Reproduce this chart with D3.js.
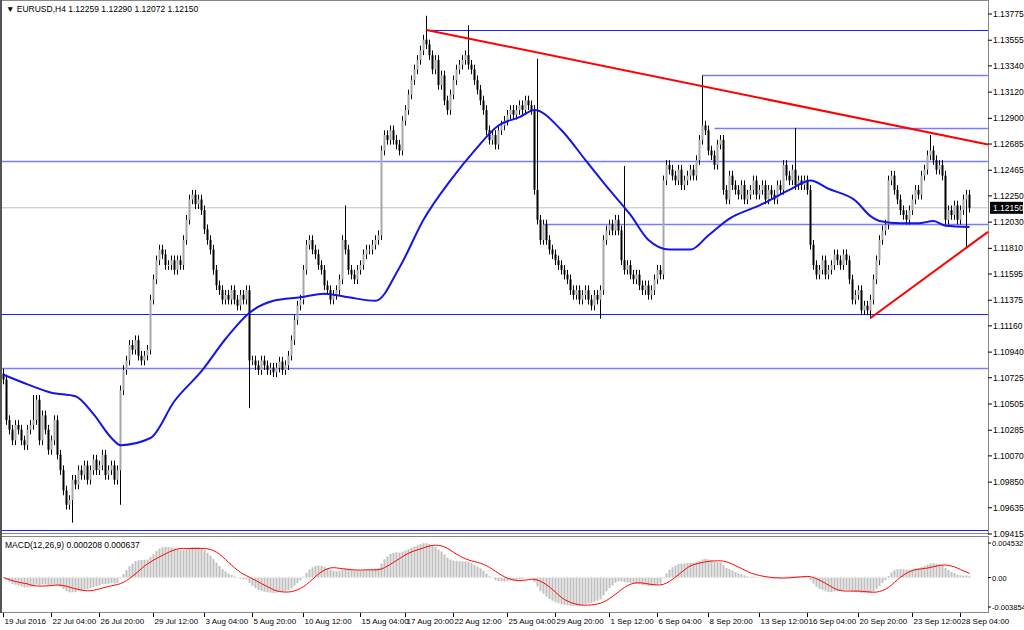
<!DOCTYPE html>
<html>
<head>
<meta charset="utf-8">
<script src="https://cdn.jsdelivr.net/npm/d3@7"></script>
<style>
  body { margin: 0; background: #fff; }
  text { font-family: "Liberation Sans", Arial, sans-serif; font-size: 8.5px; fill: #000; }
</style>
</head>
<body>
<div id="chart"></div>
<script>
// closes in pips above 1.0900 (EURUSD H4)
const closes = [
    171,137,129,120,133,129,120,116,129,133,
    137,154,120,141,129,112,120,137,108,95,
    78,66,70,87,83,95,91,99,87,95,
    104,95,99,108,91,95,99,87,95,162,
    179,187,200,196,204,191,187,191,196,238,
    255,271,280,276,267,267,271,263,271,267,
    288,305,322,326,318,322,313,297,288,280,
    263,250,246,238,242,238,246,238,233,242,
    238,246,187,187,183,179,187,183,179,181,
    177,181,186,179,183,191,204,221,233,238,
    263,284,288,280,276,267,263,250,246,238,
    242,246,255,288,280,263,259,255,263,267,
    276,280,280,284,288,292,363,376,372,380,
    372,368,363,388,397,410,422,431,439,447,
    456,452,443,431,439,418,426,405,397,410,
    422,431,435,439,443,435,431,422,414,405,
    397,380,372,376,368,380,384,388,393,397,
    393,397,401,397,405,401,397,330,305,288,
    301,288,280,276,271,267,263,259,255,246,
    242,246,238,242,246,238,233,242,238,246,
    288,296,301,296,305,296,271,263,267,259,
    255,259,250,246,250,242,246,255,263,259,
    338,351,347,342,338,347,334,338,342,347,
    342,355,372,384,380,363,359,351,368,372,
    330,322,342,334,330,326,334,322,326,330,
    338,326,330,334,322,330,326,322,334,330,
    351,342,338,347,334,338,334,338,330,284,
    267,259,263,271,259,263,267,276,271,267,
    276,271,255,238,242,246,229,233,229,238,
    255,271,288,296,301,338,342,330,322,313,
    309,305,313,322,330,326,342,347,359,363,
    355,347,351,342,305,313,309,317,305,313,
    322,326,315
];
// long wicks: [bar index, extreme in pips]
const spikes = [[10, 158], [23, 51], [39, 66], [82, 147], [114, 317], [141, 476],
    [155, 468], [178, 440], [199, 222], [207, 350], [233, 426], [264, 382],
    [289, 222], [309, 376], [321, 281]];

// 50-bar moving average: [bar index, pips]
const maPoints = [[0,175],[8,167],[16,160],[24,157],[30,142],[36,122],[39,116],[49,122],[57,153],
    [66,178],[74,205],[82,227],[90,237],[99,240],[107,243],[115,240],[124,237],
    [132,265],[140,305],[149,338],[157,363],[165,384],[172,391],[177,397],[186,380],
    [194,355],[202,330],[209,309],[215,288],[222,280],[229,280],[235,292],[242,306],
    [252,317],[262,330],[269,338],[275,331],[284,321],[289,308],[292,304],[299,302],
    [305,302],[310,304],[314,300],[322,299]];

const levels = [1.13641, 1.13264, 1.12819, 1.12543, 1.12014, 1.11260, 1.10807, 1.09449];
const levelStart = [141, 233, 237, 0, 180, 0, 0, 0];
const resistance = [[141, 1.13641], [329, 1.12677]];
const support = [[289, 1.11226], [329, 1.11964]];

const priceTicks = [1.13775,1.13555,1.13340,1.13120,1.12900,1.12685,1.12465,1.12250,
    1.12030,1.11810,1.11595,1.11375,1.11160,1.10940,1.10725,1.10505,1.10285,
    1.10070,1.09850,1.09635,1.09415];
const macdTicks = [0.004532, 0.0, -0.003854];
const timeLabels = ["19 Jul 2016","22 Jul 04:00","26 Jul 20:00","29 Jul 12:00","3 Aug 04:00",
    "5 Aug 20:00","10 Aug 12:00","15 Aug 04:00","17 Aug 20:00","22 Aug 12:00",
    "25 Aug 04:00","29 Aug 20:00","1 Sep 12:00","6 Sep 04:00","8 Sep 20:00",
    "13 Sep 12:00","16 Sep 04:00","20 Sep 20:00","23 Sep 12:00","28 Sep 04:00"];
const timeIdx = [0,16,32,50,67,83,100,119,134,150,168,184,202,218,235,252,268,285,303,319];
const lastPrice = 1.12150;

const width = 1024, height = 630;
const left = 2, right = 988;
const px = (v) => 1.09 + v / 10000;

const x = d3.scaleLinear().domain([0, 329]).range([3.5, 3.5 + 329 * 3]);
const y = d3.scaleLinear().domain([1.09415, 1.13775]).range([534, 14]);
const ym = d3.scaleLinear().domain([-0.003854, 0.004532]).range([607, 543]);

// build candles
const bars = closes.map((c, i) => {
    const o = i === 0 ? closes[0] + 5 : closes[i - 1];
    return { i, o: px(o), c: px(c), h: px(Math.max(o, c) + 4), l: px(Math.min(o, c) - 4) };
});
spikes.forEach(([i, v]) => {
    const p = px(v);
    if (p > bars[i].h) bars[i].h = p;
    if (p < bars[i].l) bars[i].l = p;
});

// MACD 12,26,9 from closes
const ema = (arr, n) => {
    const k = 2 / (n + 1), out = [];
    arr.forEach((v, i) => out.push(i === 0 ? v : v * k + out[i - 1] * (1 - k)));
    return out;
};
const cp = bars.map((b) => b.c);
const e12 = ema(cp, 12), e26 = ema(cp, 26);
const macd = e12.map((v, i) => v - e26[i]);
const signal = macd.map((v, i) => d3.mean(macd.slice(Math.max(0, i - 8), i + 1)));

const svg = d3.select("#chart").append("svg").attr("width", width).attr("height", height);

// frames
svg.append("rect").attr("x", 0.5).attr("y", 0.5).attr("width", right).attr("height", 533)
    .attr("fill", "none").attr("stroke", "#888");
svg.append("rect").attr("x", 0.5).attr("y", 536.5).attr("width", right).attr("height", 76)
    .attr("fill", "none").attr("stroke", "#888");
svg.append("line").attr("x1", 1).attr("x2", 1).attr("y1", 0).attr("y2", 613)
    .attr("stroke", "#555").attr("stroke-width", 2);

const main = svg.append("g");

// current price line
main.append("line").attr("x1", left).attr("x2", right)
    .attr("y1", y(lastPrice)).attr("y2", y(lastPrice)).attr("stroke", "#c0c0c0");

// horizontal levels
const light = [1, 2, 3, 4, 6];
main.selectAll(".lvl").data(levels).enter().append("line")
    .attr("x1", (d, i) => levelStart[i] ? x(levelStart[i]) : left)
    .attr("x2", right)
    .attr("y1", (d) => Math.round(y(d)) + 0.5).attr("y2", (d) => Math.round(y(d)) + 0.5)
    .attr("stroke", (d, i) => light.includes(i) ? "#7b7bff" : "#2020ff")
    .attr("stroke-width", (d, i) => light.includes(i) ? 1.6 : 1);

// candles
const cg = main.append("g");
cg.selectAll(".wick").data(bars).enter().append("line")
    .attr("x1", (d) => x(d.i)).attr("x2", (d) => x(d.i))
    .attr("y1", (d) => y(d.h)).attr("y2", (d) => y(d.l))
    .attr("stroke", "#000").attr("stroke-width", 1);
cg.selectAll(".body").data(bars).enter().append("rect")
    .attr("x", (d) => x(d.i) - 1)
    .attr("width", 2)
    .attr("y", (d) => y(Math.max(d.o, d.c)))
    .attr("height", (d) => Math.max(1, Math.abs(y(d.o) - y(d.c))))
    .attr("fill", (d) => d.c >= d.o ? "#a8a8a8" : "#000");

// moving average
main.append("path").datum(maPoints)
    .attr("d", d3.line().x((d) => x(d[0])).y((d) => y(px(d[1]))).curve(d3.curveMonotoneX))
    .attr("fill", "none").attr("stroke", "#1515e6").attr("stroke-width", 2);

// trend lines
[resistance, support].forEach((seg) => {
    main.append("line")
        .attr("x1", x(seg[0][0])).attr("y1", y(seg[0][1]))
        .attr("x2", right).attr("y2", y(seg[0][1]) + (y(seg[1][1]) - y(seg[0][1])) * (right - x(seg[0][0])) / (x(seg[1][0]) - x(seg[0][0])))
        .attr("stroke", "#ff0000").attr("stroke-width", 2);
});

// price axis
const pa = svg.append("g");
pa.selectAll("line").data(priceTicks).enter().append("line")
    .attr("x1", right).attr("x2", right + 4)
    .attr("y1", (d) => y(d)).attr("y2", (d) => y(d)).attr("stroke", "#000");
pa.selectAll("text").data(priceTicks).enter().append("text")
    .attr("x", right + 5).attr("y", (d) => y(d) + 3).text((d) => d.toFixed(5));
pa.append("rect").attr("x", right + 2).attr("y", y(lastPrice) - 6)
    .attr("width", 33).attr("height", 12).attr("fill", "#000");
pa.append("text").attr("x", right + 5).attr("y", y(lastPrice) + 3)
    .style("fill", "#fff").text(lastPrice.toFixed(5));

svg.append("text").attr("x", 6).attr("y", 12).text("\u25BC EURUSD,H4  1.12259 1.12290 1.12072 1.12150");

// MACD pane
const mg = svg.append("g");
mg.selectAll("rect").data(macd).enter().append("rect")
    .attr("x", (d, i) => x(i) - 1).attr("width", 2)
    .attr("y", (d) => Math.min(ym(d), ym(0)))
    .attr("height", (d) => Math.abs(ym(d) - ym(0)))
    .attr("fill", "#c0c0c0");
mg.append("path").datum(signal)
    .attr("d", d3.line().x((d, i) => x(i)).y((d) => ym(d)))
    .attr("fill", "none").attr("stroke", "#ff0000").attr("stroke-width", 1);
mg.selectAll(".mt").data(macdTicks).enter().append("text")
    .attr("x", right + 4).attr("y", (d) => ym(d) + 3)
    .style("font-size", "7.5px")
    .text((d) => d === 0 ? "0.00" : d.toFixed(6));
mg.selectAll(".ml").data(macdTicks).enter().append("line")
    .attr("x1", right).attr("x2", right + 3)
    .attr("y1", (d) => ym(d)).attr("y2", (d) => ym(d)).attr("stroke", "#000");
svg.append("text").attr("x", 5).attr("y", 548).text("MACD(12,26,9) 0.000208 0.000637");

// time axis
const ta = svg.append("g");
ta.selectAll("line").data(timeIdx).enter().append("line")
    .attr("x1", (d) => x(d)).attr("x2", (d) => x(d))
    .attr("y1", 613).attr("y2", 617).attr("stroke", "#000");
ta.selectAll("text").data(timeLabels).enter().append("text")
    .attr("x", (d, i) => x(timeIdx[i]) + 1).attr("y", 624)
    .style("font-size", "8px").text((d) => d);
</script>
</body>
</html>
